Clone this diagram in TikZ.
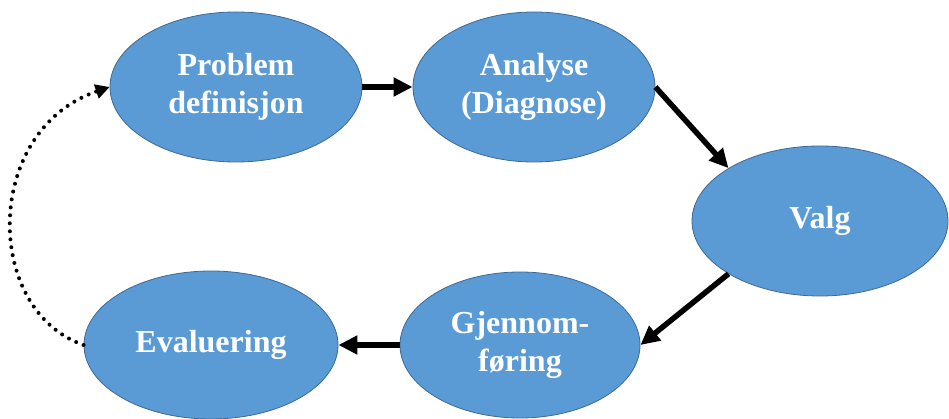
\documentclass[tikz,border=0pt]{standalone}
\usepackage{fontspec}
\setmainfont{Liberation Serif}
\usetikzlibrary{shapes.geometric,arrows.meta}
\definecolor{ellfill}{RGB}{91,155,213}
\definecolor{elldraw}{RGB}{60,105,150}
\begin{document}
\begin{tikzpicture}[x=1pt,y=-1pt,
  stage/.style={ellipse,draw=elldraw,line width=0.8pt,fill=ellfill,inner sep=0pt,
    text=white,align=center,font=\fontsize{32}{38}\selectfont\bfseries},
  flow/.style={line width=5.5pt,-{Triangle[length=19pt,width=18pt]}},
  back/.style={line width=4pt,line cap=round,dash pattern=on 0pt off 8pt,
    -{Triangle[length=14pt,width=14pt]}}]
\useasboundingbox (0,0) rectangle (949,419);
\node[stage,minimum width=252pt,minimum height=150pt] (pd) at (236,87) {Problem\\definisjon};
\node[stage,minimum width=242pt,minimum height=150pt] (an) at (534,87) {Analyse\\(Diagnose)};
\node[stage,minimum width=256pt,minimum height=150pt] (va) at (820,221) {Valg};
\node[stage,minimum width=240pt,minimum height=146pt] (gj) at (520,345) {Gjennom-\\føring};
\node[stage,minimum width=254pt,minimum height=148pt] (ev) at (211,345) {Evaluering};
\draw[flow] (pd.east) -- (an.west);
\draw[flow] (an.east) -- (va.150);
\draw[flow] (va.210) -- (gj.east);
\draw[flow] (gj.west) -- (ev.east);
\draw[back] (ev.west) .. controls (-17,310) and (-17,130) .. (pd.west);
\end{tikzpicture}
\end{document}
